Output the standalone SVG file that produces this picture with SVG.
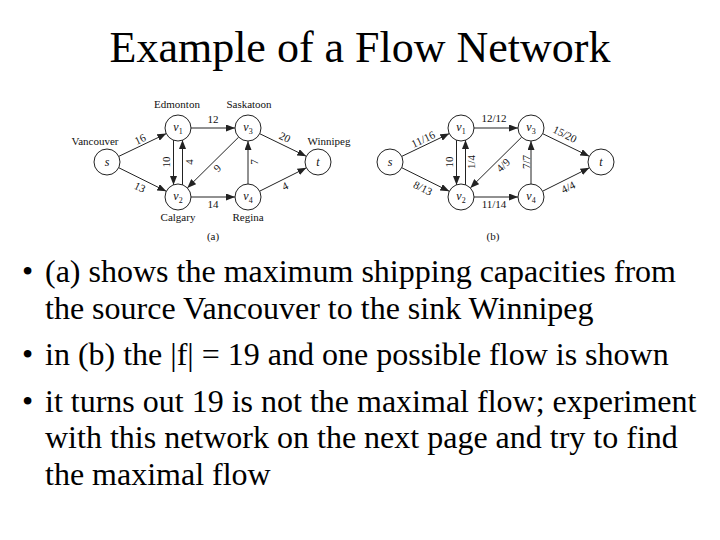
<svg xmlns="http://www.w3.org/2000/svg" width="720" height="540" viewBox="0 0 720 540">
<style>
.title{font-family:"Liberation Serif","Times New Roman",serif;font-size:44px;fill:#000}
.bul{font-family:"Liberation Serif","Times New Roman",serif;font-size:32px;fill:#000}
.node circle{fill:#fff;stroke:#222;stroke-width:1}
.nl{font-family:"Liberation Serif","Times New Roman",serif;font-size:12px;font-style:italic;fill:#111;text-anchor:middle}
.sub{font-size:8px;font-style:normal}
.city{font-family:"Liberation Serif","Times New Roman",serif;font-size:11px;fill:#111;text-anchor:middle}
.edge{stroke:#222;stroke-width:1;fill:none;marker-end:url(#ah)}
.el{font-family:"Liberation Serif","Times New Roman",serif;font-size:11px;fill:#111;text-anchor:middle}
</style>
<defs>
<marker id="ah" markerUnits="userSpaceOnUse" markerWidth="9" markerHeight="7" refX="9" refY="3.5" orient="auto">
<path d="M0,0 L9,3.5 L0,7 z" fill="#222"/>
</marker>
</defs>
<rect width="720" height="540" fill="#fff"/>
<text class="title" x="360" y="62" text-anchor="middle">Example of a Flow Network</text>

<g id="connectors">
<!-- (a) -->
<line class="edge" x1="118.7" y1="156.4" x2="166.3" y2="133.6"/>
<line class="edge" x1="118.7" y1="167.7" x2="166.3" y2="191.3"/>
<line class="edge" x1="173.5" y1="140" x2="173.5" y2="185"/>
<line class="edge" x1="182.5" y1="185" x2="182.5" y2="140"/>
<line class="edge" x1="191" y1="128" x2="235" y2="128"/>
<line class="edge" x1="238.7" y1="137.1" x2="187.3" y2="187.9"/>
<line class="edge" x1="191" y1="197" x2="235" y2="197"/>
<line class="edge" x1="248" y1="184" x2="248" y2="141"/>
<line class="edge" x1="259.7" y1="133.7" x2="306.3" y2="156.3"/>
<line class="edge" x1="259.6" y1="191.2" x2="306.4" y2="167.8"/>
<!-- (b) -->
<line class="edge" x1="401.7" y1="156.4" x2="449.3" y2="133.6"/>
<line class="edge" x1="401.7" y1="167.7" x2="449.3" y2="191.3"/>
<line class="edge" x1="456.5" y1="140" x2="456.5" y2="185"/>
<line class="edge" x1="465.5" y1="185" x2="465.5" y2="140"/>
<line class="edge" x1="474" y1="128" x2="518" y2="128"/>
<line class="edge" x1="521.7" y1="137.1" x2="470.3" y2="187.9"/>
<line class="edge" x1="474" y1="197" x2="518" y2="197"/>
<line class="edge" x1="531" y1="184" x2="531" y2="141"/>
<line class="edge" x1="542.7" y1="133.7" x2="589.3" y2="156.3"/>
<line class="edge" x1="542.6" y1="191.2" x2="589.4" y2="167.8"/>
<g id="edge-labels">
<text class="el" transform="translate(140,139) rotate(-25.6)" y="4">16</text>
<text class="el" transform="translate(140,187) rotate(26)" y="4">13</text>
<text class="el" transform="translate(166,162) rotate(-90)" y="4">10</text>
<text class="el" transform="translate(189,162) rotate(-90)" y="4">4</text>
<text class="el" x="213" y="123">12</text>
<text class="el" x="213" y="208">14</text>
<text class="el" transform="translate(217,168) rotate(-45)" y="4">9</text>
<text class="el" transform="translate(254,162) rotate(-90)" y="4">7</text>
<text class="el" transform="translate(285,137) rotate(26)" y="4">20</text>
<text class="el" transform="translate(285,186) rotate(-26.6)" y="4">4</text>

<text class="el" transform="translate(423,139) rotate(-25.6)" y="4">11/16</text>
<text class="el" transform="translate(423,188) rotate(26)" y="4">8/13</text>
<text class="el" transform="translate(449,162) rotate(-90)" y="4">10</text>
<text class="el" transform="translate(471,162) rotate(-90)" y="4">1/4</text>
<text class="el" x="494" y="122">12/12</text>
<text class="el" x="494" y="208">11/14</text>
<text class="el" transform="translate(503,165) rotate(-45)" y="4">4/9</text>
<text class="el" transform="translate(526,162) rotate(-90)" y="4">7/7</text>
<text class="el" transform="translate(565,134) rotate(26)" y="4">15/20</text>
<text class="el" transform="translate(568,187) rotate(-26.6)" y="4">4/4</text>
</g>
</g>

<!-- (a) nodes -->
<g id="a-s" class="node"><circle cx="107" cy="162" r="13"/><text class="nl" x="107" y="166">s</text></g>
<g id="a-v1" class="node"><circle cx="178" cy="128" r="13"/><text class="nl" x="178" y="131">v<tspan class="sub" dy="3">1</tspan></text></g>
<g id="a-v2" class="node"><circle cx="178" cy="197" r="13"/><text class="nl" x="178" y="200">v<tspan class="sub" dy="3">2</tspan></text></g>
<g id="a-v3" class="node"><circle cx="248" cy="128" r="13"/><text class="nl" x="248" y="131">v<tspan class="sub" dy="3">3</tspan></text></g>
<g id="a-v4" class="node"><circle cx="248" cy="197" r="13"/><text class="nl" x="248" y="200">v<tspan class="sub" dy="3">4</tspan></text></g>
<g id="a-t" class="node"><circle cx="318" cy="162" r="13"/><text class="nl" x="318" y="166">t</text></g>
<g id="a-cities">
<text class="city" x="95" y="145">Vancouver</text>
<text class="city" x="177" y="108">Edmonton</text>
<text class="city" x="249" y="108">Saskatoon</text>
<text class="city" x="329" y="145">Winnipeg</text>
<text class="city" x="178" y="221">Calgary</text>
<text class="city" x="248" y="221">Regina</text>
<text class="city" x="213" y="240">(a)</text>
</g>

<!-- (b) nodes -->
<g id="b-s" class="node"><circle cx="390" cy="162" r="13"/><text class="nl" x="390" y="166">s</text></g>
<g id="b-v1" class="node"><circle cx="461" cy="128" r="13"/><text class="nl" x="461" y="131">v<tspan class="sub" dy="3">1</tspan></text></g>
<g id="b-v2" class="node"><circle cx="461" cy="197" r="13"/><text class="nl" x="461" y="200">v<tspan class="sub" dy="3">2</tspan></text></g>
<g id="b-v3" class="node"><circle cx="531" cy="128" r="13"/><text class="nl" x="531" y="131">v<tspan class="sub" dy="3">3</tspan></text></g>
<g id="b-v4" class="node"><circle cx="531" cy="197" r="13"/><text class="nl" x="531" y="200">v<tspan class="sub" dy="3">4</tspan></text></g>
<g id="b-t" class="node"><circle cx="601" cy="162" r="13"/><text class="nl" x="601" y="166">t</text></g>
<text class="city" x="493" y="240">(b)</text>

<g id="bullets">
<text class="bul" x="22" y="282">•</text>
<text class="bul" x="45" y="282">(a) shows the maximum shipping capacities from</text>
<text class="bul" x="45" y="319">the source Vancouver to the sink Winnipeg</text>
<text class="bul" x="22" y="365">•</text>
<text class="bul" x="45" y="365">in (b) the |f| = 19 and one possible flow is shown</text>
<text class="bul" x="22" y="412">•</text>
<text class="bul" x="45" y="412">it turns out 19 is not the maximal flow; experiment</text>
<text class="bul" x="45" y="448">with this network on the next page and try to find</text>
<text class="bul" x="45" y="485">the maximal flow</text>
</g>
</svg>
